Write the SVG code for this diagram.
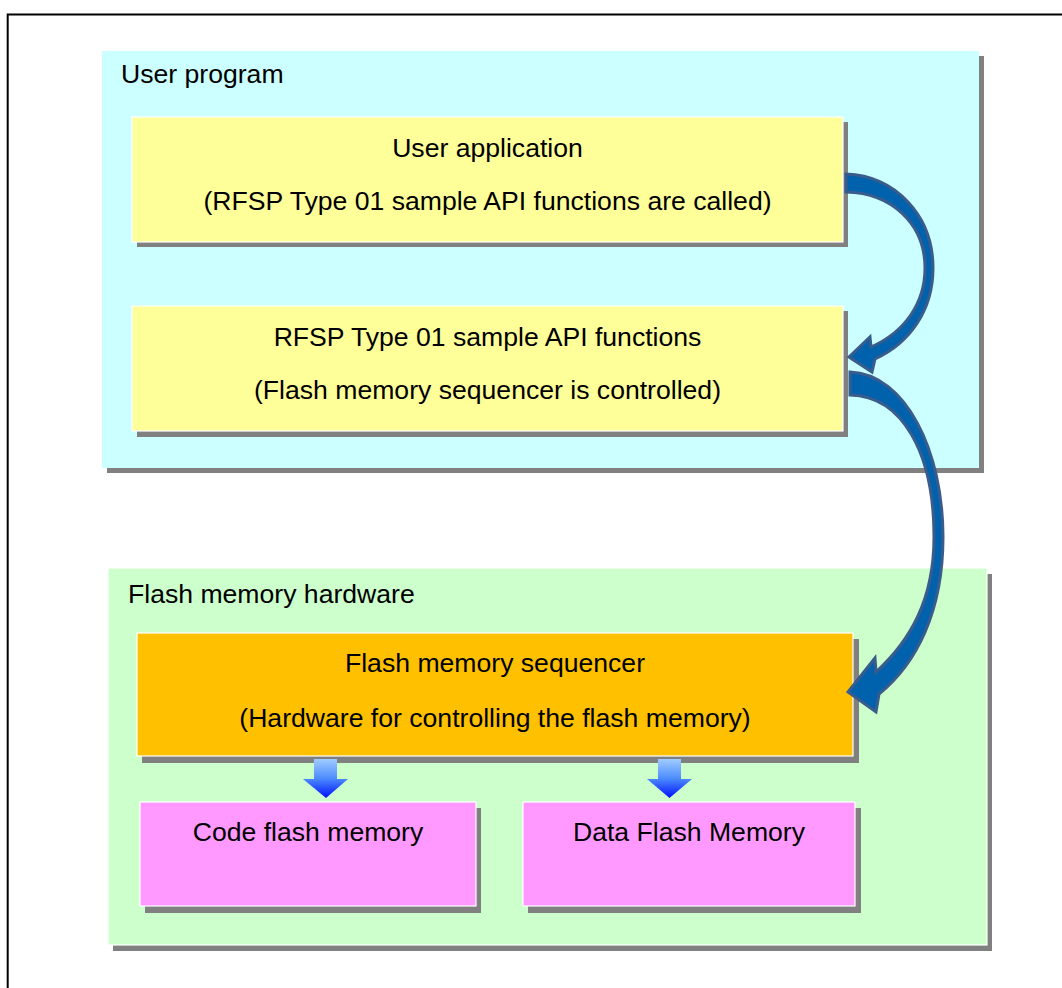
<svg xmlns="http://www.w3.org/2000/svg" width="1062" height="988" viewBox="0 0 1062 988">
<defs>
<style>
.shadow{fill:#808080}
.box{stroke:#ffffff;stroke-width:1.2}
.t{font-family:"Liberation Sans",Arial,sans-serif;font-size:26.6px;fill:#000}
.c{text-anchor:middle}
.curve{fill:#0062AC;stroke:#3A5C8C;stroke-width:3;stroke-linejoin:miter}
.down{fill:url(#dg)}
</style>
<linearGradient id="dg" x1="0" y1="0" x2="0" y2="1">
<stop offset="0" stop-color="#A0CCFF"/>
<stop offset="0.5" stop-color="#4C8CFF"/>
<stop offset="1" stop-color="#0010FF"/>
</linearGradient>
</defs>
<rect x="0" y="0" width="1062" height="988" fill="#fff"/>
<rect x="7.7" y="14.5" width="1100" height="1100" fill="none" stroke="#000" stroke-width="2"/>

<g id="user-program">
<rect class="shadow" x="107" y="56" width="877" height="417"/>
<rect x="102" y="51" width="877" height="417" fill="#CCFFFF"/>
<text class="t" x="121" y="83">User program</text>
</g>

<g id="user-application">
<rect class="shadow" x="137" y="122" width="711" height="125"/>
<rect class="box" x="132" y="117" width="711" height="125" fill="#FFFF99"/>
<text class="t c" x="487.5" y="157">User application</text>
<text class="t c" x="487.5" y="210">(RFSP Type 01 sample API functions are called)</text>
</g>

<g id="api-functions">
<rect class="shadow" x="137" y="311" width="711" height="126"/>
<rect class="box" x="132" y="306" width="711" height="125" fill="#FFFF99"/>
<text class="t c" x="487.5" y="346">RFSP Type 01 sample API functions</text>
<text class="t c" x="487.5" y="399">(Flash memory sequencer is controlled)</text>
</g>

<g id="flash-hardware">
<rect class="shadow" x="113" y="574" width="879" height="377"/>
<rect class="box" x="108" y="568" width="879" height="377" fill="#CCFFCC"/>
<text class="t" x="128" y="603">Flash memory hardware</text>
</g>

<g id="sequencer">
<rect class="shadow" x="142" y="639" width="717" height="124"/>
<rect class="box" x="137" y="633" width="716" height="123" fill="#FFC000"/>
<text class="t c" x="495" y="672">Flash memory sequencer</text>
<text class="t c" x="495" y="727">(Hardware for controlling the flash memory)</text>
</g>

<g id="code-flash">
<rect class="shadow" x="145" y="808" width="336" height="105"/>
<rect class="box" x="140" y="802" width="336" height="104" fill="#FF99FF"/>
<text class="t c" x="308" y="841">Code flash memory</text>
</g>

<g id="data-flash">
<rect class="shadow" x="528" y="808" width="333" height="105"/>
<rect class="box" x="523" y="802" width="332" height="104" fill="#FF99FF"/>
<text class="t c" x="689" y="841">Data Flash Memory</text>
</g>

<g id="connectors">
<path class="curve" d="M846,174 C896,176 933,216 933,268 C933,310 910,343 875,359 L872,372 L849,357 L870,337 L871,347 C905,332 925,303 925,268 C925,224 892,193 846,192 Z"/>
<path class="curve" d="M850,372 C906,374 943,452 943,537 C943,612 916,664 879,694 L876,712 L848,692 L875,658 L876,672 C910,641 934,600 934,537 C934,452 902,396 850,395 Z"/>
<polygon class="down" points="314,759 337,759 337,779 348,779 326,798 303,779 314,779"/>
<polygon class="down" points="658,759 681,759 681,779 692,779 669.5,798 647,779 658,779"/>
</g>
</svg>
